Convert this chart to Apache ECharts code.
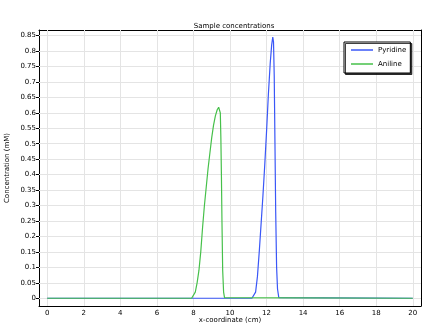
<!DOCTYPE html>
<html>
<head>
<meta charset="utf-8">
<script src="https://cdn.jsdelivr.net/npm/echarts@6/dist/echarts.min.js"></script>
<style>html,body{margin:0;padding:0;background:#fff;}#c{width:426px;height:327px;}</style>
</head>
<body>
<div id="c"></div>
<script>
const titleText = 'Sample concentrations';
const xName = 'x-coordinate (cm)';
const yName = 'Concentration (mM)';
const seriesNames = ['Pyridine', 'Aniline'];
const xTicks = [0, 2, 4, 6, 8, 10, 12, 14, 16, 18, 20];
const yTicks = [0, 0.05, 0.1, 0.15, 0.2, 0.25, 0.3, 0.35, 0.4, 0.45, 0.5, 0.55, 0.6, 0.65, 0.7, 0.75, 0.8, 0.85];

const pyridineX = [0, 11.2, 11.3, 11.4, 11.5, 11.6, 11.7, 11.8, 11.9, 12.0, 12.1, 12.2, 12.28, 12.34, 12.38, 12.42, 12.46, 12.5, 12.55, 12.6, 12.67, 12.75, 20];
const pyridineY = [0, 0, 0.002, 0.02, 0.07, 0.15, 0.24, 0.33, 0.43, 0.54, 0.66, 0.76, 0.82, 0.845, 0.83, 0.72, 0.5, 0.28, 0.1, 0.03, 0.002, 0, 0];

const anilineX = [0, 7.9, 8.0, 8.1, 8.2, 8.3, 8.4, 8.5, 8.6, 8.7, 8.8, 8.9, 9.0, 9.1, 9.2, 9.3, 9.38, 9.43, 9.47, 9.5, 9.53, 9.56, 9.6, 9.65, 9.7, 9.8, 20];
const anilineY = [0, 0, 0.003, 0.02, 0.05, 0.09, 0.15, 0.23, 0.3, 0.36, 0.42, 0.47, 0.52, 0.56, 0.59, 0.61, 0.618, 0.62, 0.6, 0.52, 0.4, 0.25, 0.09, 0.02, 0.002, 0, 0];

const pair = (xs, ys) => xs.map((x, i) => [x, ys[i]]);
const fnt = 'DejaVu Sans';
const fs = 7;
const gridColor = '#e4e4e4';

const chart = echarts.init(document.getElementById('c'));
const baseX = {
  type: 'value', min: -0.45, max: 20.45,
  axisLine: {onZero: false, lineStyle: {color: '#000', width: 1}},
  splitLine: {show: false}
};
const baseY = {
  type: 'value', min: -0.025, max: 0.868,
  axisLine: {onZero: false, lineStyle: {color: '#000', width: 1}},
  splitLine: {show: false}
};
const gridLines = xTicks.map(v => ({xAxis: v})).concat(yTicks.map(v => ({yAxis: v})));
chart.setOption({
  animation: false,
  title: {text: titleText, left: 229, textAlign: 'center', top: 18,
    textStyle: {fontFamily: fnt, fontSize: fs, fontWeight: 'normal', color: '#000'}},
  grid: {left: 39, top: 30, right: 5, bottom: 21, containLabel: false, outerBoundsMode: 'none'},
  legend: {
    left: 344, top: 42, orient: 'vertical', z: 20,
    backgroundColor: '#fff', borderColor: '#000', borderWidth: 1,
    shadowColor: 'rgba(0,0,0,0.75)', shadowOffsetX: 1.5, shadowOffsetY: 1.5, shadowBlur: 0,
    padding: [3, 4, 4, 7], itemGap: 4, itemWidth: 22, itemHeight: 1.5, icon: 'rect',
    textStyle: {fontFamily: fnt, fontSize: fs, color: '#000', lineHeight: 10},
    data: seriesNames
  },
  xAxis: [
    Object.assign({}, baseX, {
      position: 'bottom',
      name: xName, nameLocation: 'middle', nameGap: 11, nameMoveOverlap: false,
      nameTextStyle: {fontFamily: fnt, fontSize: fs, color: '#000'},
      axisTick: {inside: true, length: 4, customValues: xTicks, lineStyle: {color: '#000'}},
      axisLabel: {customValues: xTicks, margin: 4, fontFamily: fnt, fontSize: fs, color: '#000'}
    }),
    Object.assign({}, baseX, {
      position: 'top',
      axisTick: {inside: true, length: 4, customValues: xTicks, lineStyle: {color: '#000'}},
      axisLabel: {show: false}
    })
  ],
  yAxis: [
    Object.assign({}, baseY, {
      position: 'left',
      name: yName, nameLocation: 'middle', nameGap: 28, nameMoveOverlap: false,
      nameTextStyle: {fontFamily: fnt, fontSize: fs, color: '#000'},
      axisTick: {inside: false, length: 3, customValues: yTicks, lineStyle: {color: '#000'}},
      axisLabel: {customValues: yTicks, margin: 3, fontFamily: fnt, fontSize: fs, color: '#000',
        formatter: v => String(+v.toFixed(2))}
    }),
    Object.assign({}, baseY, {
      position: 'right',
      axisTick: {inside: true, length: 4, customValues: yTicks, lineStyle: {color: '#000'}},
      axisLabel: {show: false}
    })
  ],
  series: [
    {type: 'line', data: [], silent: true, z: 1,
      markLine: {silent: true, symbol: 'none', label: {show: false}, animation: false, z: 1,
        lineStyle: {color: gridColor, width: 1, type: 'solid'}, emphasis: {disabled: true},
        data: gridLines}},
    {name: seriesNames[0], type: 'line', data: pair(pyridineX, pyridineY), showSymbol: false, symbol: 'none',
      lineStyle: {color: '#3a57f7', width: 1.2}, itemStyle: {color: '#3a57f7'}, z: 2},
    {name: seriesNames[1], type: 'line', data: pair(anilineX, anilineY), showSymbol: false, symbol: 'none',
      lineStyle: {color: '#46c04a', width: 1.2}, itemStyle: {color: '#46c04a'}, z: 3}
  ]
});
</script>
</body>
</html>
